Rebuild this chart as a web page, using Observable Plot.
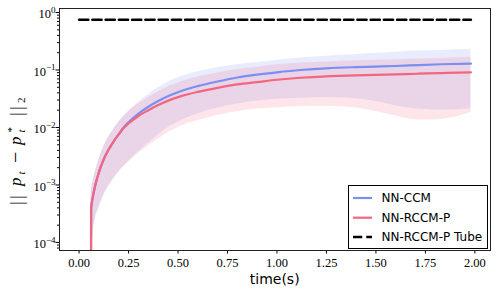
<!DOCTYPE html>
<html><head><meta charset="utf-8">
<script src="https://cdn.jsdelivr.net/npm/d3@7"></script>
<script src="https://cdn.jsdelivr.net/npm/@observablehq/plot@0.6"></script>
<style>body{margin:0;background:#fff} svg{display:block}</style>
</head><body><div id="chart"></div>
<script>
// time samples (s)
const time = [0.04, 0.061, 0.07, 0.08, 0.10, 0.125, 0.15, 0.175, 0.2, 0.225, 0.25, 0.3, 0.35, 0.4, 0.46, 0.52, 0.6, 0.7, 0.8, 0.9, 1.0, 1.12, 1.25, 1.4, 1.5, 1.6, 1.71, 1.83, 1.98];
// values read on the log axis, stored as log10 exponents
// NN-CCM mean and band
const ccmMeanLog10  = [-30, -3.41, -3.2, -3.03, -2.78, -2.55, -2.38, -2.24, -2.12, -2.00, -1.91, -1.76, -1.64, -1.54, -1.44, -1.36, -1.28, -1.20, -1.13, -1.08, -1.04, -1.00, -0.97, -0.95, -0.94, -0.93, -0.915, -0.90, -0.89];
const ccmUpperLog10 = [-30, -3.15, -2.95, -2.8, -2.56, -2.33, -2.16, -2.03, -1.91, -1.81, -1.72, -1.56, -1.43, -1.31, -1.19, -1.11, -1.03, -0.96, -0.91, -0.87, -0.83, -0.79, -0.76, -0.73, -0.71, -0.69, -0.67, -0.66, -0.64];
const ccmLowerLog10 = [-30, -4.6, -3.85, -3.62, -3.4, -3.18, -3.02, -2.89, -2.78, -2.68, -2.59, -2.42, -2.27, -2.13, -1.98, -1.87, -1.76, -1.66, -1.59, -1.54, -1.51, -1.49, -1.48, -1.50, -1.55, -1.62, -1.68, -1.70, -1.68];
// NN-RCCM-P mean and band
const rccmMeanLog10  = [-30, -3.41, -3.2, -3.03, -2.78, -2.55, -2.38, -2.24, -2.12, -2.01, -1.93, -1.80, -1.70, -1.61, -1.52, -1.45, -1.38, -1.31, -1.25, -1.21, -1.17, -1.135, -1.11, -1.095, -1.085, -1.075, -1.065, -1.053, -1.04];
const rccmUpperLog10 = [-30, -3.15, -2.95, -2.8, -2.56, -2.33, -2.16, -2.03, -1.91, -1.81, -1.72, -1.59, -1.48, -1.38, -1.28, -1.20, -1.12, -1.05, -0.99, -0.95, -0.91, -0.88, -0.86, -0.84, -0.83, -0.82, -0.81, -0.80, -0.78];
const rccmLowerLog10 = [-30, -4.6, -3.85, -3.62, -3.4, -3.18, -3.02, -2.89, -2.78, -2.68, -2.60, -2.45, -2.32, -2.20, -2.07, -1.97, -1.88, -1.79, -1.72, -1.68, -1.655, -1.635, -1.63, -1.66, -1.72, -1.80, -1.87, -1.86, -1.74];
// tube bound
const tubeTime = [0, 1.98];
const tubeBound = [0.75, 0.75];
// ticks
const xTicks = [0, 0.25, 0.5, 0.75, 1.0, 1.25, 1.5, 1.75, 2.0];
const yMajor = [1, 0.1, 0.01, 0.001, 0.0001];
const yMinor = [8e-5, 9e-5, 2e-4, 3e-4, 4e-4, 5e-4, 6e-4, 7e-4, 8e-4, 9e-4, 2e-3, 3e-3, 4e-3, 5e-3, 6e-3, 7e-3, 8e-3, 9e-3, 0.02, 0.03, 0.04, 0.05, 0.06, 0.07, 0.08, 0.09, 0.2, 0.3, 0.4, 0.5, 0.6, 0.7, 0.8, 0.9];
const seriesNames = ["NN-CCM", "NN-RCCM-P", "NN-RCCM-P Tube"];

const BLUE = "#7a8ff2", RED = "#f36680";
const p10 = e => Math.pow(10, e);
const rows = time.map((t, i) => ({
  t,
  cm: p10(ccmMeanLog10[i]), cu: p10(ccmUpperLog10[i]), cl: p10(ccmLowerLog10[i]),
  rm: p10(rccmMeanLog10[i]), ru: p10(rccmUpperLog10[i]), rl: p10(rccmLowerLog10[i])
}));
const tube = tubeTime.map((t, i) => ({t, v: tubeBound[i]}));
const curve = "monotone-x";

const chart = Plot.plot({
  width: 498, height: 297,
  marginLeft: 59, marginRight: 8, marginTop: 8, marginBottom: 47,
  style: {fontFamily: "'Liberation Serif', serif", fontSize: "12.5px", background: "#fff", color: "#000"},
  x: {domain: [-0.099, 2.079]},
  y: {type: "log", domain: [p10(-4.14), p10(0.07)]},
  marks: [
    Plot.areaY(rows, {x: "t", y1: "cl", y2: "cu", fill: BLUE, fillOpacity: 0.17, curve, clip: true}),
    Plot.areaY(rows, {x: "t", y1: "rl", y2: "ru", fill: RED, fillOpacity: 0.17, curve, clip: true}),
    Plot.lineY(rows, {x: "t", y: "cm", stroke: BLUE, strokeWidth: 2.2, curve, clip: true}),
    Plot.lineY(rows, {x: "t", y: "rm", stroke: RED, strokeWidth: 2.2, curve, clip: true}),
    Plot.lineY(tube, {x: "t", y: "v", stroke: "#000", strokeWidth: 2.5, strokeDasharray: "9.25,4"}),
    Plot.axisX({ticks: xTicks, tickFormat: d3.format(".2f"), tickSize: 3.5, tickPadding: 4.4, label: null}),
    Plot.axisY({ticks: yMajor, tickSize: 3.5, tickFormat: () => "", label: null}),
    Plot.axisY({ticks: yMinor, tickSize: 2, tickFormat: () => "", label: null}),
    Plot.frame({stroke: "#222", strokeWidth: 1})
  ]
});
document.getElementById("chart").appendChild(chart);

const svg = d3.select(chart);
const ys = chart.scale("y");
// y tick labels with superscripts
yMajor.forEach(v => {
  const e = Math.round(Math.log10(v));
  const yy = ys.apply(v);
  const t = svg.append("text").attr("x", 55.5).attr("y", yy + 6.3)
    .attr("text-anchor", "end").attr("font-family", "'Liberation Serif', serif").attr("font-size", 12.5).attr("fill", "#000");
  t.append("tspan").text("10");
  t.append("tspan").attr("dy", -5.5).attr("font-size", 9).text(e === 0 ? "0" : "\u2212" + (-e));
});
// x label
svg.append("text").attr("x", 274.7).attr("y", 284).attr("text-anchor", "middle")
  .attr("font-family", "'DejaVu Sans', sans-serif").attr("font-size", 14).attr("fill", "#000").text("time(s)");
// y label ||p_t - p_t^*||_2
const yl = svg.append("text").attr("transform", "translate(21,205) rotate(-90)")
  .attr("text-anchor", "start")
  .attr("font-family", "'Liberation Serif', serif").attr("font-size", 16).attr("fill", "#000");
const part = (x, y, txt, opts = {}) => {
  const s = yl.append("tspan").attr("x", x).attr("y", y).text(txt);
  if (opts.size) s.attr("font-size", opts.size);
  if (opts.italic) s.attr("font-style", "italic");
};
part(0, 2, "|", {size: 19}); part(6, 2, "|", {size: 19});
part(19, 0, "p", {italic: true, size: 17});
part(30.5, 3.5, "t", {size: 11, italic: true});
part(42, 1, "\u2212", {size: 20});
part(60, 0, "p", {italic: true, size: 17});
part(72.5, -6, "*", {size: 11});
part(72.5, 3.5, "t", {size: 11, italic: true});
part(89, 2, "|", {size: 19}); part(95, 2, "|", {size: 19});
part(102, 4, "2", {size: 11});

// legend
const lg = svg.append("g").attr("text-anchor", "start");
lg.append("rect").attr("x", 348.5).attr("y", 185.5).attr("width", 139).attr("height", 63)
  .attr("fill", "#fff").attr("stroke", "#000").attr("stroke-width", 1);
const entries = [
  {name: seriesNames[0], color: BLUE, dash: null, y: 198},
  {name: seriesNames[1], color: RED, dash: null, y: 217.7},
  {name: seriesNames[2], color: "#000", dash: "9.25,4", y: 237}
];
entries.forEach(en => {
  const l = lg.append("line").attr("x1", 353).attr("x2", 372).attr("y1", en.y).attr("y2", en.y)
    .attr("stroke", en.color).attr("stroke-width", en.dash ? 2.5 : 2.2);
  if (en.dash) l.attr("stroke-dasharray", en.dash);
  lg.append("text").attr("x", 381.5).attr("y", en.y + 4.4).attr("text-anchor", "start")
    .attr("font-family", "'DejaVu Sans', sans-serif")
    .attr("font-size", 12).attr("fill", "#000").text(en.name);
});
</script></body></html>
